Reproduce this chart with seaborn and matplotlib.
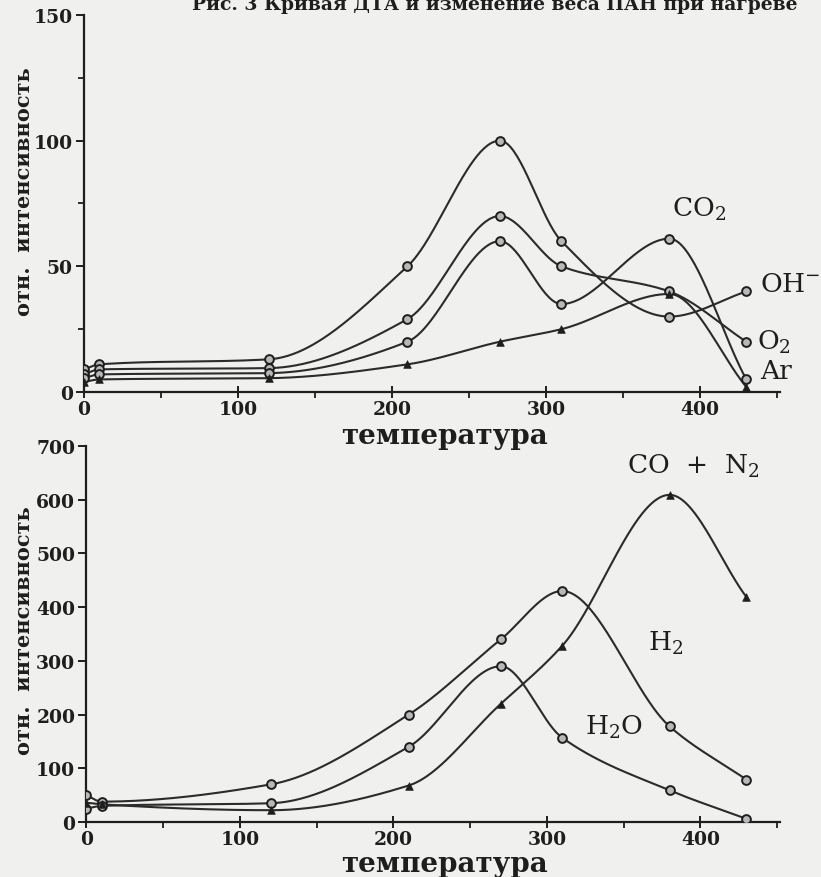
import numpy as np
import pandas as pd
import matplotlib
matplotlib.use("Agg")
import matplotlib.pyplot as plt
from matplotlib.ticker import MultipleLocator
import seaborn as sns

# ---------------- data ----------------
temperature = [0, 10, 120, 210, 270, 310, 380, 430]

# top panel (relative intensity)
oh_minus = [9, 11, 13, 50, 100, 60, 30, 40]
o2 = [7, 9, 9.5, 29, 70, 50, 40, 20]
co2 = [5.5, 7, 7.5, 20, 60, 35, 61, 5]
ar = [4, 5, 5.5, 11, 20, 25, 39, 2]

# bottom panel
h2 = [50, 38, 70, 200, 340, 430, 178, 79]
h2o = [25, 30, 35, 140, 290, 157, 59, 6]
co_n2 = [36, 33, 22, 68, 220, 328, 609, 419]

top_ticks = [0, 50, 100, 150]
bottom_ticks = [0, 100, 200, 300, 400, 500, 600, 700]
x_ticks = [0, 100, 200, 300, 400]

title = "Рис. 3 Кривая ДТА и изменение веса ПАН при нагреве"
x_label = "температура"
y_label = "отн.  интенсивность"

# --------------- style ----------------
sns.set_theme(style="ticks")
plt.rcParams["font.family"] = ["DejaVu Serif", "DejaVu Sans"]
plt.rcParams["font.weight"] = "bold"

BG = "#f0f0ee"
INK = "#1e1e1e"
LINE = "#2b2b2b"


def pchip(x, y, n=400):
    x = np.asarray(x, float)
    y = np.asarray(y, float)
    h = np.diff(x)
    d = np.diff(y) / h
    m = np.zeros_like(y)
    for k in range(1, len(x) - 1):
        if d[k - 1] * d[k] <= 0:
            m[k] = 0.0
        else:
            w1 = 2 * h[k] + h[k - 1]
            w2 = h[k] + 2 * h[k - 1]
            m[k] = (w1 + w2) / (w1 / d[k - 1] + w2 / d[k])
    m[0] = d[0]
    m[-1] = d[-1]
    xs = np.linspace(x[0], x[-1], n)
    idx = np.clip(np.searchsorted(x, xs) - 1, 0, len(x) - 2)
    t = (xs - x[idx]) / h[idx]
    h00 = 2 * t**3 - 3 * t**2 + 1
    h10 = t**3 - 2 * t**2 + t
    h01 = -2 * t**3 + 3 * t**2
    h11 = t**3 - t**2
    ys = h00 * y[idx] + h10 * h[idx] * m[idx] + h01 * y[idx + 1] + h11 * h[idx] * m[idx + 1]
    return xs, ys


def draw_panel(ax, series, markers):
    frames = []
    for name, vals in series.items():
        xs, ys = pchip(temperature, vals)
        frames.append(pd.DataFrame({"t": xs, "v": ys, "s": name}))
    curves = pd.concat(frames)
    sns.lineplot(data=curves, x="t", y="v", units="s", estimator=None, sort=False,
                 color=LINE, lw=1.5, ax=ax, legend=False)
    for name, vals in series.items():
        pts = pd.DataFrame({"t": temperature, "v": vals})
        if markers[name] == "o":
            sns.scatterplot(data=pts, x="t", y="v", marker="o", s=40,
                            facecolor="#b8b8b8", edgecolor=INK, linewidth=1.4,
                            ax=ax, zorder=5, legend=False)
        else:
            sns.scatterplot(data=pts, x="t", y="v", marker="^", s=30,
                            color=INK, edgecolor=INK, linewidth=0.5,
                            ax=ax, zorder=5, legend=False)


fig = plt.figure(figsize=(8.21, 8.78), dpi=100, facecolor=BG)
ax1 = fig.add_axes([0.1023, 0.5524, 0.848, 0.4294], facecolor=BG)
ax2 = fig.add_axes([0.1052, 0.0626, 0.845, 0.4283], facecolor=BG)

draw_panel(ax1, {"OH-": oh_minus, "O2": o2, "CO2": co2, "Ar": ar},
           {"OH-": "o", "O2": "o", "CO2": "o", "Ar": "^"})
draw_panel(ax2, {"H2": h2, "H2O": h2o, "CO+N2": co_n2},
           {"H2": "o", "H2O": "o", "CO+N2": "^"})

for ax, yt, ymax in ((ax1, top_ticks, 150), (ax2, bottom_ticks, 700)):
    ax.set_xlim(0, 452)
    ax.set_ylim(0, ymax)
    ax.set_xticks(x_ticks)
    ax.set_yticks(yt)
    ax.xaxis.set_minor_locator(MultipleLocator(50))
    if ax is ax1:
        ax.yaxis.set_minor_locator(MultipleLocator(25))
    ax.set_xlabel("")
    ax.set_ylabel("")
    for sp in ("top", "right"):
        ax.spines[sp].set_visible(False)
    for sp in ("left", "bottom"):
        ax.spines[sp].set_color(INK)
        ax.spines[sp].set_linewidth(1.6)
    ax.tick_params(axis="x", which="major", direction="inout", length=9, width=1.4,
                   colors=INK, labelsize=13.5, pad=1)
    ax.tick_params(axis="x", which="minor", direction="out", length=4, width=1.3, colors=INK)
    ax.tick_params(axis="y", which="major", direction="out", length=6, width=1.4,
                   colors=INK, labelsize=13.5, pad=2)
    ax.tick_params(axis="y", which="minor", direction="out", length=4, width=1.3, colors=INK)
    for lab in ax.get_xticklabels() + ax.get_yticklabels():
        lab.set_fontweight("bold")
    ax.grid(False)

# series labels, top
lab_kw = dict(fontsize=19, color=INK, fontweight="normal", va="center", ha="left")
ax1.text(382, 73, "CO$_\\mathregular{2}$", **lab_kw)
ax1.text(439, 43, "OH$^\\mathregular{-}$", **lab_kw, clip_on=False)
ax1.text(437, 20, "O$_\\mathregular{2}$", **lab_kw, clip_on=False)
ax1.text(439, 8.5, "Ar", **lab_kw, clip_on=False)
# series labels, bottom
ax2.text(352, 665, "CO  +  N$_\\mathregular{2}$", **lab_kw, clip_on=False)
ax2.text(366, 335, "H$_\\mathregular{2}$", **lab_kw)
ax2.text(325, 178, "H$_\\mathregular{2}$O", **lab_kw)

# axis labels
fig.text(0.542, 1 - 437 / 878, x_label, ha="center", va="center", fontsize=20,
         color=INK, fontweight="bold")
fig.text(0.542, 1 - 865 / 878, x_label, ha="center", va="center", fontsize=20,
         color=INK, fontweight="bold")
fig.text(24 / 821, 1 - 192 / 878, y_label, rotation=90, ha="center", va="center",
         fontsize=15, color=INK, fontweight="bold")
fig.text(24 / 821, 1 - 631 / 878, y_label, rotation=90, ha="center", va="center",
         fontsize=15, color=INK, fontweight="bold")

# caption of the scan, clipped by the top edge as in the original
fig.text(495 / 821, 1 - 10 / 878, title, ha="center", va="baseline", fontsize=13.5,
         color=INK, fontweight="bold")

fig.savefig("out.png", dpi=100, facecolor=BG)
